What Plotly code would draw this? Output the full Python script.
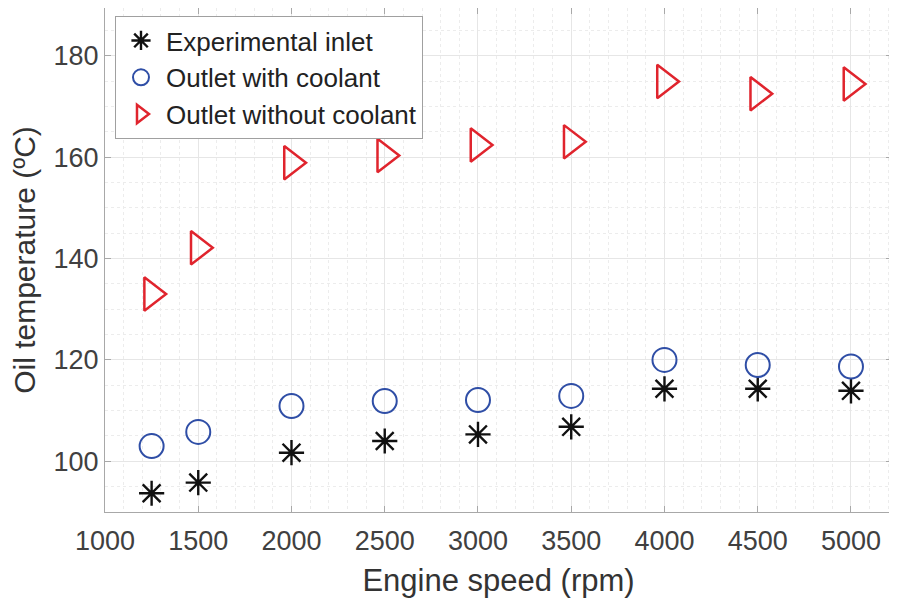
import plotly.graph_objects as go

engine_speed = [1250, 1500, 2000, 2500, 3000, 3500, 4000, 4500, 5000]
inlet = [93.7, 95.8, 101.7, 104.0, 105.3, 106.8, 114.3, 114.3, 113.9]
outlet_with = [103.0, 105.8, 110.9, 111.9, 112.1, 112.9, 120.0, 119.0, 118.7]
outlet_without = [133.0, 142.1, 158.9, 160.3, 162.4, 163.0, 174.9, 172.5, 174.4]

x_ticks = [1000, 1500, 2000, 2500, 3000, 3500, 4000, 4500, 5000]
y_ticks = [100, 120, 140, 160, 180]

FONT = "Liberation Sans, Arial, Helvetica, sans-serif"
TXT = "#333333"

fig = go.Figure()
fig.add_trace(go.Scatter(
    x=engine_speed, y=inlet, mode="markers", name="Experimental inlet",
    marker=dict(symbol="asterisk-open", size=21, color="#111111",
                line=dict(color="#111111", width=2.4))))
fig.add_trace(go.Scatter(
    x=engine_speed, y=outlet_with, mode="markers", name="Outlet with coolant",
    marker=dict(symbol="circle-open", size=24, color="#2f4ea6", line=dict(color="#2f4ea6", width=2))))
fig.add_trace(go.Scatter(
    x=engine_speed, y=outlet_without, mode="markers", name="Outlet without coolant",
    marker=dict(symbol="triangle-right-open", size=29, color="#e0242d", line=dict(color="#e0242d", width=2.5))))

axis_common = dict(
    showline=True, linecolor="#a8a8a8", linewidth=1.2, mirror="ticks",
    ticks="inside", ticklen=6, tickcolor="#a8a8a8", tickwidth=1,
    showgrid=True, gridcolor="#e6e6e6", gridwidth=1,
    zeroline=False, automargin=False,
    tickfont=dict(family=FONT, size=27, color="#404040"),
)

fig.update_xaxes(
    range=[1000, 5220], tickvals=x_ticks, ticktext=[str(v) for v in x_ticks],
    ticklabelstandoff=4,
    title=dict(text="Engine speed (rpm)", font=dict(family=FONT, size=31, color=TXT), standoff=14),
    minor=dict(dtick=100, showgrid=True, gridcolor="#ececec", griddash="dot", gridwidth=1, ticks=""),
    **axis_common)
fig.update_yaxes(
    range=[90, 189.4], tickvals=y_ticks, ticktext=[str(v) for v in y_ticks],
    title=dict(text="Oil temperature (ºC)", font=dict(family=FONT, size=30, color=TXT), standoff=10),
    minor=dict(dtick=5, showgrid=True, gridcolor="#ececec", griddash="dot", gridwidth=1, ticks=""),
    **axis_common)

fig.update_layout(
    width=889, height=596,
    margin=dict(l=97, r=5, t=0, b=92),
    paper_bgcolor="white", plot_bgcolor="white",
    font=dict(family=FONT, color=TXT),
    showlegend=True,
    legend=dict(
        x=0.0127, y=0.984, xanchor="left", yanchor="top",
        bgcolor="white", bordercolor="#a0a0a0", borderwidth=1,
        font=dict(family=FONT, size=26, color="#222222"),
        tracegroupgap=0, itemsizing="trace", itemwidth=40,
    ),
)

fig.write_html("out.html")
